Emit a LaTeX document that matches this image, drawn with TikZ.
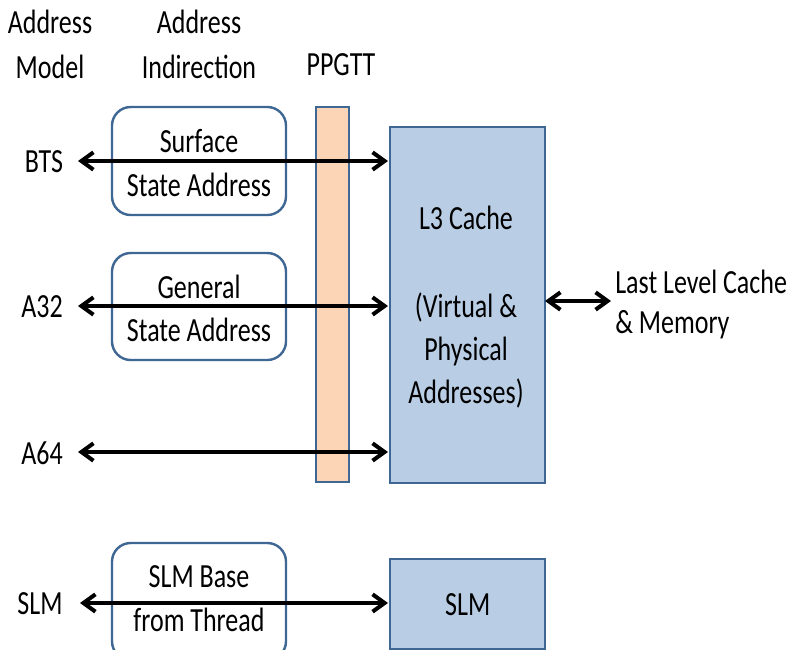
\documentclass[tikz,border=0pt]{standalone}
\usepackage{fontspec}
\usepackage{graphicx}
\setmainfont{Carlito}
\usetikzlibrary{arrows.meta}
\definecolor{bord}{HTML}{3F6794}
\definecolor{peach}{HTML}{FBD5B5}
\definecolor{lblue}{HTML}{B9CDE5}
\newcommand\vs[1]{\scalebox{1}[1.3]{#1}}
\begin{document}
\begin{tikzpicture}[x=0.75pt,y=-0.75pt,
  every node/.style={font=\fontsize{19.5}{33}\selectfont, inner sep=0pt},
  rbox/.style={draw=bord, line width=1.8pt, rounded corners=14pt, fill=white},
  sbox/.style={draw=bord, line width=1.8pt, fill=lblue},
  bar/.style={draw=bord, line width=1.8pt, fill=peach},
  conn/.style={line width=3pt, {Straight Barb[length=9pt,width=13pt,line width=3pt]}-{Straight Barb[length=9pt,width=13pt,line width=3pt]}}]
\useasboundingbox (0,0) rectangle (790,650);
% headers
\node (hm1) at (50,22) {\vs{Address}};
\node (hm2) at (50,67) {\vs{Model}};
\node (hi1) at (199,22) {\vs{Address}};
\node (hi2) at (199,67) {\vs{Indirection}};
\node (hp) at (341,65) {\vs{PPGTT}};
% PPGTT bar
\draw[bar] (316,107) rectangle (349,482);
% rounded boxes
\draw[rbox] (112,107) rectangle (286,215);
\node (t1) at (199,141) {\vs{Surface}};
\node (t2) at (199,185) {\vs{State Address}};
\draw[rbox] (112,253) rectangle (286,360);
\node (t3) at (199,287) {\vs{General}};
\node (t4) at (199,330) {\vs{State Address}};
\draw[rbox] (112,543) rectangle (286,660);
\node (t5) at (199,577) {\vs{SLM Base}};
\node (t6) at (199,620) {\vs{from Thread}};
% L3 and SLM
\node[sbox, minimum width=155*0.75pt, minimum height=356*0.75pt, anchor=north west] (l3) at (389,126) {};
\node (c1) at (466,218) {\vs{L3 Cache}};
\node (c2) at (466,307) {\vs{(Virtual \&}};
\node (c3) at (466,351) {\vs{Physical}};
\node (c4) at (466,393) {\vs{Addresses)}};
\node[sbox, minimum width=155*0.75pt, minimum height=90*0.75pt, anchor=north west] (slm) at (389,558) {\vs{SLM}};
% left labels
\node (bts) at (44,162) {\vs{BTS}};
\node (a32) at (42,307) {\vs{A32}};
\node (a64) at (42,453) {\vs{A64}};
\node (lslm) at (40,604) {\vs{SLM}};
\node[anchor=west] (llc1) at (615,282) {\vs{Last Level Cache}};
\node[anchor=west] (llc2) at (615,325) {\vs{\& Memory}};
% endpoints
\coordinate (e1) at (388,161);
\coordinate (e2) at (388,306);
\coordinate (e3) at (388,452);
\coordinate (e4) at (388,603);
\coordinate (s1) at (78,161);
\coordinate (s2) at (78,306);
\coordinate (s3) at (78,452);
\coordinate (s4) at (80,603);
\coordinate (r1) at (545,301);
\coordinate (r2) at (611,301);
\draw[conn] (s1) -- (e1);
\draw[conn] (s2) -- (e2);
\draw[conn] (s3) -- (e3);
\draw[conn] (s4) -- (e4);
\draw[conn] (r1) -- (r2);
\end{tikzpicture}
\end{document}
